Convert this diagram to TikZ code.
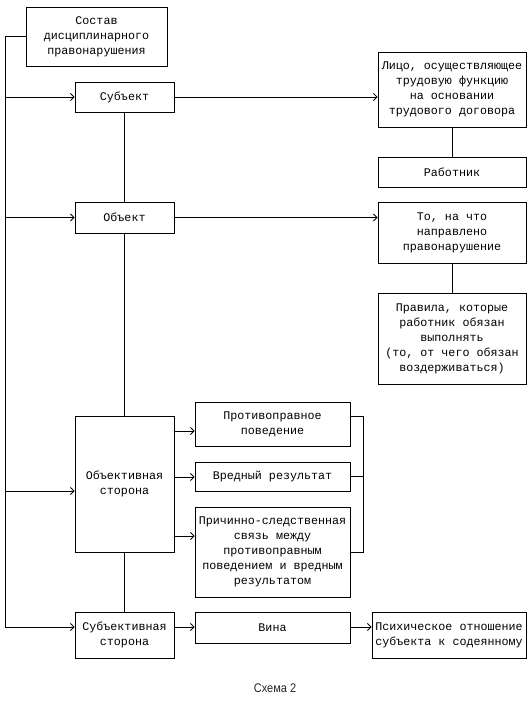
\documentclass[tikz,border=0pt]{standalone}
\usepackage{fontspec}
\setmainfont{Liberation Mono}
\newfontfamily\capfont[FakeStretch=0.88]{Liberation Sans}
\usetikzlibrary{arrows.meta}
\tikzset{
  box/.style={draw=black, line width=0.9pt, rectangle, align=center, inner sep=0pt,
    font=\fontsize{11.7}{15}\selectfont},
  conn/.style={line width=0.9pt, draw=black},
  arr/.style={conn, -{Straight Barb[length=3.5pt,width=7pt,line width=0.8pt]}},
}
\begin{document}
\begin{tikzpicture}[x=1pt,y=-1pt]
\useasboundingbox (0,0) rectangle (532,701);
% nodes
\node[box, minimum width=141, minimum height=59] (b1) at (96.5,36.5) {Состав\\дисциплинарного\\правонарушения};
\node[box, minimum width=99, minimum height=30] (subj) at (124.5,97) {Субъект};
\node[box, minimum width=99, minimum height=31] (obj) at (124.5,217.5) {Объект};
\node[box, minimum width=99, minimum height=136] (objside) at (124.5,484) {Объективная\\сторона};
\node[box, minimum width=99, minimum height=46] (subjside) at (124.5,635) {Субъективная\\сторона};
\node[box, minimum width=148, minimum height=75] (litso) at (452,89.5) {Лицо, осуществляющее\\трудовую функцию\\на основании\\трудового договора};
\node[box, minimum width=148, minimum height=30] (rab) at (452,172) {Работник};
\node[box, minimum width=148, minimum height=61] (to) at (452,232.5) {То, на что\\направлено\\правонарушение};
\node[box, minimum width=148, minimum height=91] (prav) at (452,338.5) {Правила, которые\\работник обязан\\выполнять\\(то, от чего обязан\\воздерживаться)};
\node[box, minimum width=155, minimum height=44] (protiv) at (272.5,424) {Противоправное\\поведение};
\node[box, minimum width=155, minimum height=29] (vred) at (272.5,476.5) {Вредный результат};
\node[box, minimum width=155, minimum height=90] (prich) at (272.5,552) {Причинно-следственная\\связь между\\противоправным\\поведением и вредным\\результатом};
\node[box, minimum width=155, minimum height=31] (vina) at (272.5,627.5) {Вина};
\node[box, minimum width=154, minimum height=46] (psych) at (449,635) {Психическое отношение\\субъекта к содеянному};
\node[font=\capfont\fontsize{12.5}{14}\selectfont, text=black!85] (cap) at (275,688) {Схема 2};
% spine
\coordinate (sTop) at (5,36.5);
\coordinate (s1) at (5,97);
\coordinate (s2) at (5,217.5);
\coordinate (s3) at (5,491);
\coordinate (s4) at (5,627);
\draw[conn] (b1.west) -- (sTop) -- (s4);
\draw[arr] (s1) -- (subj.west);
\draw[arr] (s2) -- (obj.west);
\draw[arr] (s3) -- (s3 -| objside.west);
\draw[arr] (s4) -- (s4 -| subjside.west);
% vertical chain
\draw[conn] (subj.south) -- (obj.north);
\draw[conn] (obj.south) -- (objside.north);
\draw[conn] (objside.south) -- (subjside.north);
\draw[conn] (litso.south) -- (rab.north);
\draw[conn] (to.south) -- (prav.north);
% right arrows
\draw[arr] (subj.east) -- (litso.west |- subj.east);
\draw[arr] (obj.east) -- (to.west |- obj.east);
\coordinate (a1) at (174,431);
\coordinate (a2) at (174,477);
\coordinate (a3) at (174,536);
\draw[arr] (a1) -- (a1 -| protiv.west);
\draw[arr] (a2) -- (a2 -| vred.west);
\draw[arr] (a3) -- (a3 -| prich.west);
\coordinate (v1) at (174,627);
\draw[arr] (v1) -- (vina.west |- v1);
\draw[arr] (vina.east |- v1) -- (psych.west |- v1);
% bracket
\coordinate (r1) at (363,416);
\coordinate (r3) at (363,552);
\draw[conn] (protiv.east |- r1) -- (r1) -- (r3) -- (prich.east);
\draw[conn] (vred.east) -- (vred.east -| r1);
\end{tikzpicture}
\end{document}
